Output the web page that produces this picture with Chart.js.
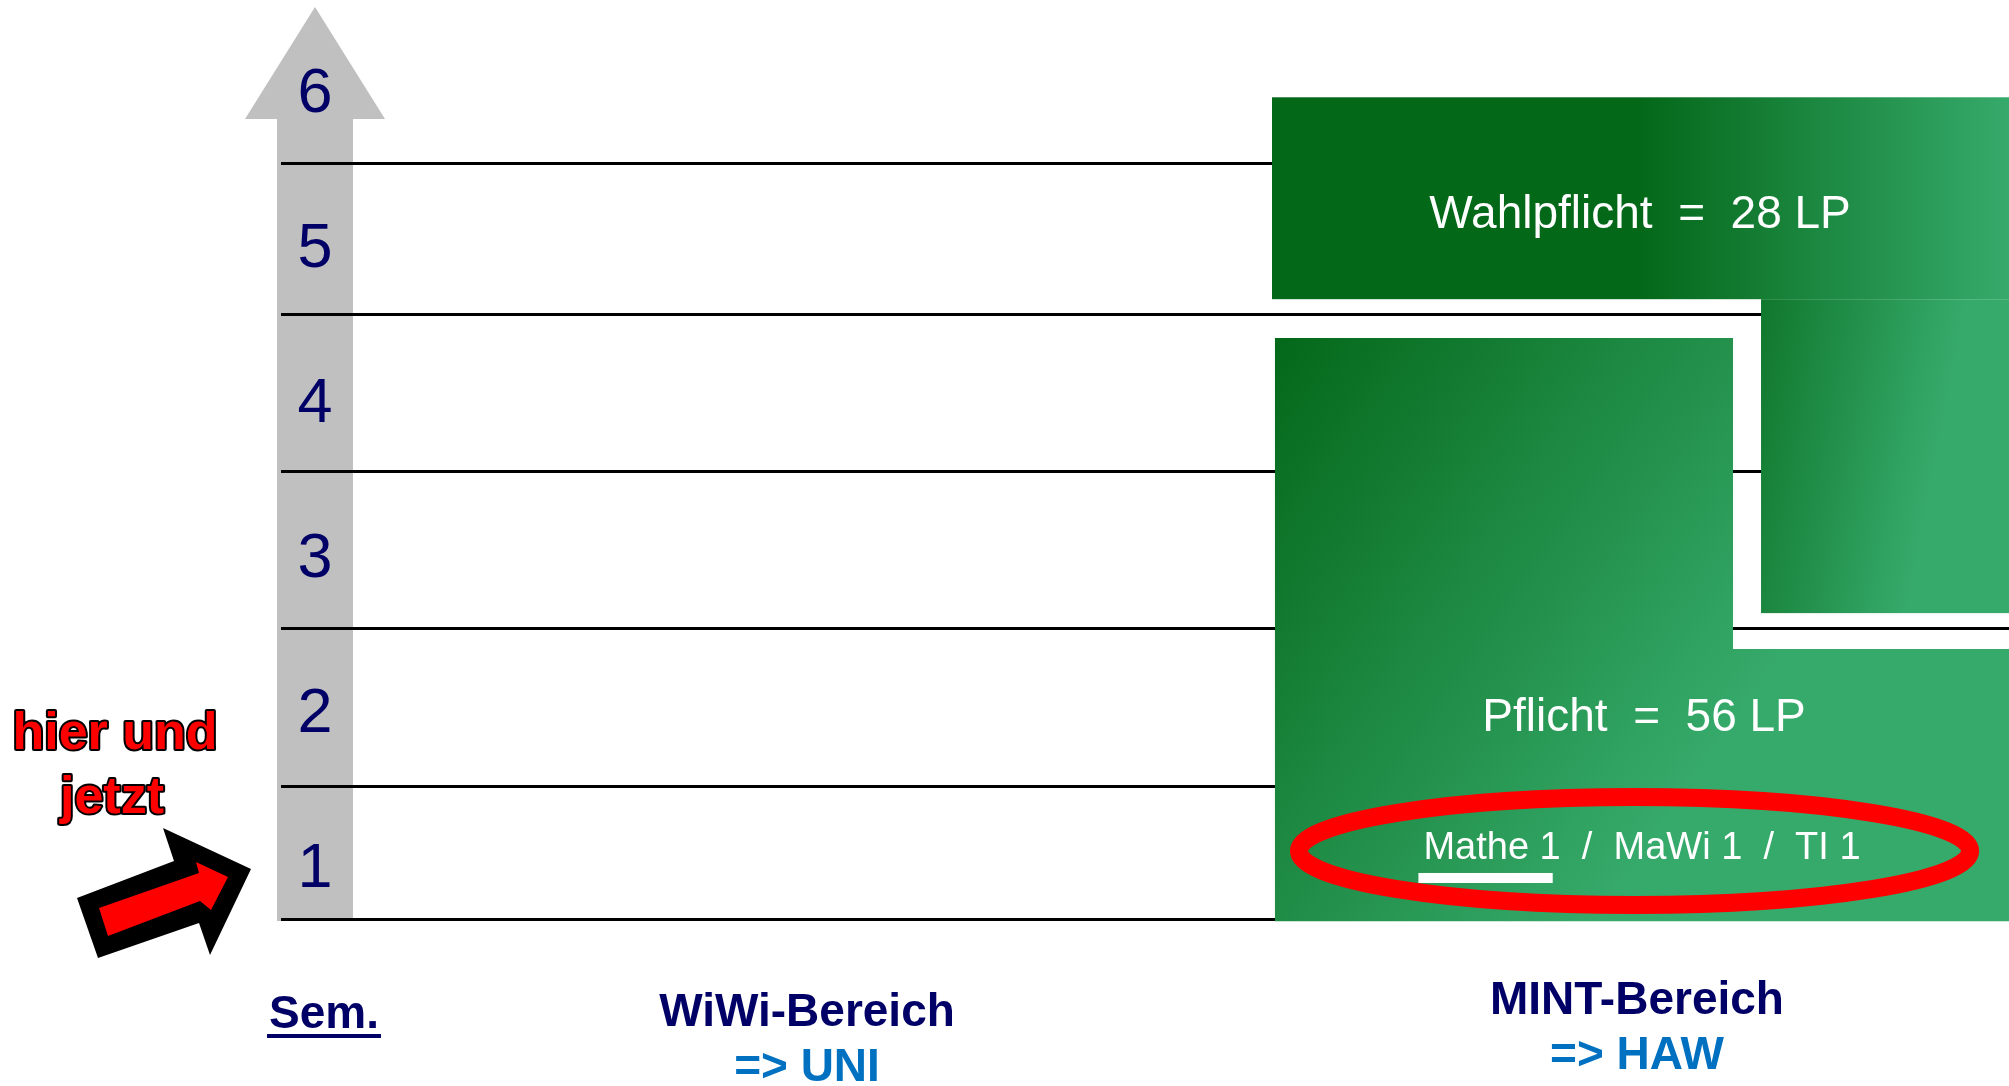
<!DOCTYPE html>
<html>
<head>
<meta charset="utf-8">
<script src="https://cdn.jsdelivr.net/npm/chart.js@4/dist/chart.umd.min.js"></script>
<style>
html, body { margin: 0; padding: 0; background: #fff; }
#wrap { width: 2009px; height: 1086px; }
</style>
</head>
<body>
<div id="wrap"><canvas id="chart" width="2009" height="1086"></canvas></div>
<script>
// semesters shown on the grey arrow
var semesters = [1, 2, 3, 4, 5, 6];
// separator lines between semesters (semester units)
var semesterBounds = [0.645, 1.5, 2.52, 3.535, 4.548, 5.52];
var currentSemester = 1;

var areaNames = ['WiWi-Bereich', 'MINT-Bereich'];
var areaTargets = ['=> UNI', '=> HAW'];

// MINT blocks
var blockNames = ['Pflicht', 'Wahlpflicht'];
var blockLP = [56, 28];
var blockBottom = [0.63, 2.619];    // lowest semester reached
var blockTop = [4.394, 5.948];      // highest semester reached
var blockStep = [2.387, 4.645];     // where the block is full width
var firstModules = ['Mathe 1', 'MaWi 1', 'TI 1'];

var DARK = '#046819';
var LIGHT = '#36aa6b';
var NAVY = '#000066';
var FONT = '"Liberation Sans", Arial, sans-serif';

var diagram = {
	id: 'diagram',
	beforeDraw: function(chart) {
		var ctx = chart.ctx, area = chart.chartArea;
		ctx.save();
		ctx.fillStyle = '#fff';
		ctx.fillRect(0, 0, chart.width, chart.height);

		// grey semester arrow
		var cx = area.left + 34;
		ctx.fillStyle = '#c0c0c0';
		ctx.beginPath();
		ctx.moveTo(cx, area.top + 3);
		ctx.lineTo(cx + 70, area.top + 115);
		ctx.lineTo(cx + 38, area.top + 115);
		ctx.lineTo(cx + 38, area.bottom + 2);
		ctx.lineTo(cx - 38, area.bottom + 2);
		ctx.lineTo(cx - 38, area.top + 115);
		ctx.lineTo(cx - 70, area.top + 115);
		ctx.closePath();
		ctx.fill();
		ctx.restore();
	},
	afterDraw: function(chart) {
		var ctx = chart.ctx, area = chart.chartArea;
		var xs = chart.scales.x, ys = chart.scales.y;
		var px = function(v) { return xs.getPixelForValue(v); };
		var py = function(v) { return ys.getPixelForValue(v); };
		ctx.save();

		// semester numbers
		ctx.fillStyle = NAVY;
		ctx.font = '63px ' + FONT;
		ctx.textAlign = 'center';
		ctx.textBaseline = 'alphabetic';
		semesters.forEach(function(s) {
			ctx.fillText(String(s), area.left + 34, py(s) + 23);
		});

		// Pflicht block (L shape)
		var g = ctx.createLinearGradient(px(57.52), py(blockTop[0]), px(85.9), py(2.2));
		g.addColorStop(0, DARK);
		g.addColorStop(1, LIGHT);
		ctx.fillStyle = g;
		ctx.beginPath();
		ctx.moveTo(px(57.52), py(blockBottom[0]));
		ctx.lineTo(px(100), py(blockBottom[0]));
		ctx.lineTo(px(100), py(blockStep[0]));
		ctx.lineTo(px(84.03), py(blockStep[0]));
		ctx.lineTo(px(84.03), py(blockTop[0]));
		ctx.lineTo(px(57.52), py(blockTop[0]));
		ctx.closePath();
		ctx.fill();

		// Wahlpflicht: top strip
		g = ctx.createLinearGradient(px(57.35), 0, px(100), 0);
		g.addColorStop(0, DARK);
		g.addColorStop(0.5, DARK);
		g.addColorStop(1, LIGHT);
		ctx.fillStyle = g;
		ctx.fillRect(px(57.35), py(blockTop[1]), px(100) - px(57.35), py(blockStep[1]) - py(blockTop[1]));
		// Wahlpflicht: right column
		g = ctx.createLinearGradient(px(82.2), py(4.77), px(97.2), py(4.45));
		g.addColorStop(0, DARK);
		g.addColorStop(1, LIGHT);
		ctx.fillStyle = g;
		ctx.fillRect(px(85.65), py(blockStep[1]), px(100) - px(85.65), py(blockBottom[1]) - py(blockStep[1]));

		// block texts
		ctx.fillStyle = '#fff';
		ctx.font = '46px ' + FONT;
		ctx.fillText(blockNames[1] + '  =  ' + blockLP[1] + ' LP', px(78.65), py(5.103));
		ctx.fillText(blockNames[0] + '  =  ' + blockLP[0] + ' LP', px(78.88), py(1.858));

		ctx.font = '38px ' + FONT;
		var modText = firstModules.join('  /  ');
		var modW = ctx.measureText(modText).width;
		var modX = px(78.76);
		ctx.fillText(modText, modX, py(1.032));
		var m0 = ctx.measureText(firstModules[0]).width;
		ctx.fillRect(modX - modW / 2 - 5, py(0.942), m0 - 3, 10);

		// red ellipse
		ctx.strokeStyle = '#ff0000';
		ctx.lineWidth = 18;
		ctx.beginPath();
		ctx.ellipse(px(78.33), py(1.084), px(19.42) - px(0), py(0) - py(0.348), 0, 0, Math.PI * 2);
		ctx.stroke();

		// "hier und jetzt"
		var ty = py(currentSemester);
		ctx.font = 'bold 52px ' + FONT;
		ctx.lineJoin = 'round';
		ctx.lineWidth = 4;
		ctx.strokeStyle = '#000';
		ctx.fillStyle = '#ff0000';
		[['hier und', 115, -115], ['jetzt', 112, -51]].forEach(function(t) {
			ctx.strokeText(t[0], t[1], ty + t[2]);
			ctx.fillText(t[0], t[1], ty + t[2]);
		});

		// pointing arrow, tip anchored at the current semester
		var ax = area.left - 30, ay = ty + 5;
		var outer = [[-174, 29], [-153, 89], [-52, 54], [-41, 86], [0, 0], [-88, -41], [-77, -8]];
		var inner = [[-152, 39], [-143, 67], [-51, 32], [-40, 41], [-23, 8], [-55, -7], [-52, 4]];
		function poly(pts, col) {
			ctx.fillStyle = col;
			ctx.beginPath();
			pts.forEach(function(p, i) {
				if (i === 0) ctx.moveTo(ax + p[0], ay + p[1]);
				else ctx.lineTo(ax + p[0], ay + p[1]);
			});
			ctx.closePath();
			ctx.fill();
		}
		poly(outer, '#000');
		poly(inner, '#ff0000');

		// bottom labels
		ctx.font = 'bold 46px ' + FONT;
		ctx.fillStyle = NAVY;
		var semX = area.left + 43;
		ctx.fillText('Sem.', semX, area.bottom + 109);
		var sw = ctx.measureText('Sem.').width;
		ctx.fillRect(semX - sw / 2 - 2, area.bottom + 115, sw + 4, 4);

		var areaX = [px(30.44), px(78.47)];
		var nameY = [107, 95], targetY = [162, 150];
		areaNames.forEach(function(n, i) {
			ctx.fillStyle = NAVY;
			ctx.fillText(n, areaX[i], area.bottom + nameY[i]);
			ctx.fillStyle = '#0070c0';
			ctx.fillText(areaTargets[i], areaX[i], area.bottom + targetY[i]);
		});

		ctx.restore();
	}
};

var ctx = document.getElementById('chart').getContext('2d');
new Chart(ctx, {
	type: 'scatter',
	data: { datasets: [] },
	options: {
		responsive: false,
		animation: false,
		layout: { padding: { left: 281, right: 0, top: 4, bottom: 167 } },
		plugins: {
			legend: { display: false },
			tooltip: { enabled: false }
		},
		scales: {
			x: { type: 'linear', min: 0, max: 100, display: false },
			y: {
				type: 'linear',
				min: 0.645,
				max: 6.55,
				afterBuildTicks: function(axis) {
					axis.ticks = semesterBounds.map(function(v) { return { value: v }; });
				},
				ticks: { display: false },
				grid: { color: '#000', lineWidth: 3, drawTicks: false },
				border: { display: false }
			}
		}
	},
	plugins: [diagram]
});
</script>
</body>
</html>
